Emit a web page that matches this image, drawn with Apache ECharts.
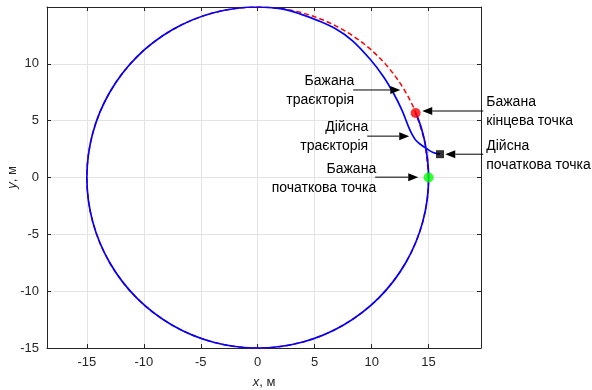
<!DOCTYPE html>
<html>
<head>
<meta charset="utf-8">
<script src="https://cdn.jsdelivr.net/npm/echarts@6/dist/echarts.min.js"></script>
<style>
  html, body { margin: 0; padding: 0; background: #fff; }
  #chart { width: 592px; height: 390px; }
</style>
</head>
<body>
<div id="chart"></div>
<script>
// desired trajectory (red dashed)
const desiredX = [15, 14.49, 12.99, 10.61, 7.50, 3.88, 0, -3.88, -7.50, -10.61, -12.99, -14.49, -15,
  -14.49, -12.99, -10.61, -7.50, -3.88, 0, 3.88, 7.50, 10.61, 12.99, 14.49, 15, 14.72, 13.87];
const desiredY = [0, 3.88, 7.50, 10.61, 12.99, 14.49, 15, 14.49, 12.99, 10.61, 7.50, 3.88, 0,
  -3.88, -7.50, -10.61, -12.99, -14.49, -15, -14.49, -12.99, -10.61, -7.50, -3.88, 0, 2.86, 5.71];

// actual trajectory (blue)
const actualX = [16.0, 15.4, 14.8, 14.3, 13.9, 13.55, 13.24, 12.66, 11.92, 11.04, 9.87, 8.3, 6.8, 5.3, 3.7, 2.0, 0,
  -3.88, -7.50, -10.61, -12.99, -14.49, -15, -14.49, -12.99, -10.61, -7.50, -3.88, 0, 3.88, 7.50, 10.61,
  12.99, 14.49, 15, 14.75, 14.3, 13.86];
const actualY = [2.05, 2.2, 2.55, 2.9, 3.25, 3.8, 4.46, 5.93, 7.41, 8.87, 10.4, 12.05, 13.1, 13.8, 14.4, 14.85, 15,
  14.49, 12.99, 10.61, 7.50, 3.88, 0, -3.88, -7.50, -10.61, -12.99, -14.49, -15, -14.49, -12.99, -10.61,
  -7.50, -3.88, 0, 2.7, 4.55, 5.67];

const desiredStart = [15, 0];
const desiredEnd = [13.86, 5.67];
const actualStart = [16, 2.05];

// annotations: arrow tail -> head, in data units
const annTailX = [8.38, 9.61, 10.31, 19.8, 19.8];
const annTailY = [7.70, 3.64, 0.03, 5.85, 2.05];
const annHeadX = [12.51, 13.30, 14.09, 14.44, 16.46];
const annHeadY = [7.70, 3.64, 0.03, 5.85, 2.05];
const annText = ['Бажана\nтраєкторія', 'Дійсна\nтраєкторія', 'Бажана\nпочаткова точка',
  'Бажана\nкінцева точка', 'Дійсна\nпочаткова точка'];

const FONT = '"Liberation Sans", Arial, sans-serif';
const AX = '#262626';

let zip = (xs, ys) => xs.map((x, i) => [x, ys[i]]);

let chart = echarts.init(document.getElementById('chart'));

let baseAxis = {
  type: 'value',
  axisLine: {show: true, onZero: false, lineStyle: {color: AX, width: 1}},
  axisTick: {show: true, inside: true, length: 4, lineStyle: {color: AX}},
  splitLine: {show: false}
};

let option = {
  animation: false,
  grid: {left: 47, top: 7, right: 111, bottom: 42, containLabel: false, outerBoundsMode: 'none'},
  xAxis: [
    Object.assign({}, baseAxis, {
      min: -18.5, max: 19.6, splitNumber: 8, position: 'bottom',
      axisLabel: {
        color: AX, fontSize: 13, fontFamily: FONT, margin: 8,
        formatter: v => (v % 5 === 0 ? String(v) : '')
      },
      splitLine: {show: true, lineStyle: {color: '#e3e3e3', width: 1}},
      name: '{i|x}, м', nameLocation: 'middle', nameGap: 28,
      nameTextStyle: {color: AX, fontSize: 13, fontFamily: FONT,
        rich: {i: {fontStyle: 'italic', fontSize: 13, fontFamily: FONT, color: AX}}}
    }),
    Object.assign({}, baseAxis, {
      min: -18.5, max: 19.6, splitNumber: 8, position: 'top',
      axisLabel: {show: false}
    })
  ],
  yAxis: [
    Object.assign({}, baseAxis, {
      min: -15, max: 15, interval: 5, position: 'left',
      axisLabel: {
        color: AX, fontSize: 13, fontFamily: FONT, margin: 8,
        formatter: v => (v === 15 ? '' : String(v))
      },
      splitLine: {show: true, lineStyle: {color: '#e3e3e3', width: 1}},
      name: '{i|y}, м', nameLocation: 'middle', nameGap: 28, nameRotate: 90,
      nameMoveOverlap: false,
      nameTextStyle: {color: AX, fontSize: 13, fontFamily: FONT,
        rich: {i: {fontStyle: 'italic', fontSize: 13, fontFamily: FONT, color: AX}}}
    }),
    Object.assign({}, baseAxis, {
      min: -15, max: 15, interval: 5, position: 'right',
      axisLabel: {show: false}
    })
  ],
  series: [
    {
      name: 'desired', type: 'line', data: zip(desiredX, desiredY),
      smooth: 0.34, showSymbol: false, z: 2,
      lineStyle: {color: '#ff0000', width: 1.5, type: [5, 3]}
    },
    {
      name: 'actual', type: 'line', data: zip(actualX, actualY),
      smooth: 0.34, showSymbol: false, z: 3,
      lineStyle: {color: '#0000ff', width: 1.7}
    },
    {
      type: 'scatter', z: 4, data: [desiredStart], symbol: 'circle', symbolSize: 10,
      itemStyle: {color: '#00ff00'}
    },
    {
      type: 'scatter', z: 4, data: [desiredEnd], symbol: 'circle', symbolSize: 10,
      itemStyle: {color: '#ff0000'}
    },
    {
      type: 'scatter', z: 4, data: [actualStart], symbol: 'rect', symbolSize: 8,
      itemStyle: {color: '#000000'}
    },
    {
      type: 'custom', z: 5, clip: false, silent: true,
      data: annTailX.map((x, i) => [x, annTailY[i], annHeadX[i], annHeadY[i]]),
      renderItem: function (params, api) {
        let i = params.dataIndex;
        let t = api.coord([api.value(0), api.value(1)]);
        let h = api.coord([api.value(2), api.value(3)]);
        let dir = h[0] > t[0] ? 1 : -1;
        let hl = 10, hw = 4;
        return {
          type: 'group',
          children: [
            {type: 'line', shape: {x1: t[0], y1: t[1], x2: h[0] - dir * hl, y2: h[1]},
              style: {stroke: '#000', lineWidth: 1}},
            {type: 'polygon', shape: {points: [[h[0], h[1]], [h[0] - dir * hl, h[1] - hw], [h[0] - dir * hl, h[1] + hw]]},
              style: {fill: '#000'}},
            {type: 'text', x: dir > 0 ? t[0] + 1 : t[0] + 3, y: t[1] + 1,
              style: {text: annText[i], fill: '#000', font: '14px ' + FONT,
                align: dir > 0 ? 'right' : 'left', verticalAlign: 'middle', lineHeight: 19}}
          ]
        };
      }
    }
  ]
};

chart.setOption(option);
</script>
</body>
</html>
